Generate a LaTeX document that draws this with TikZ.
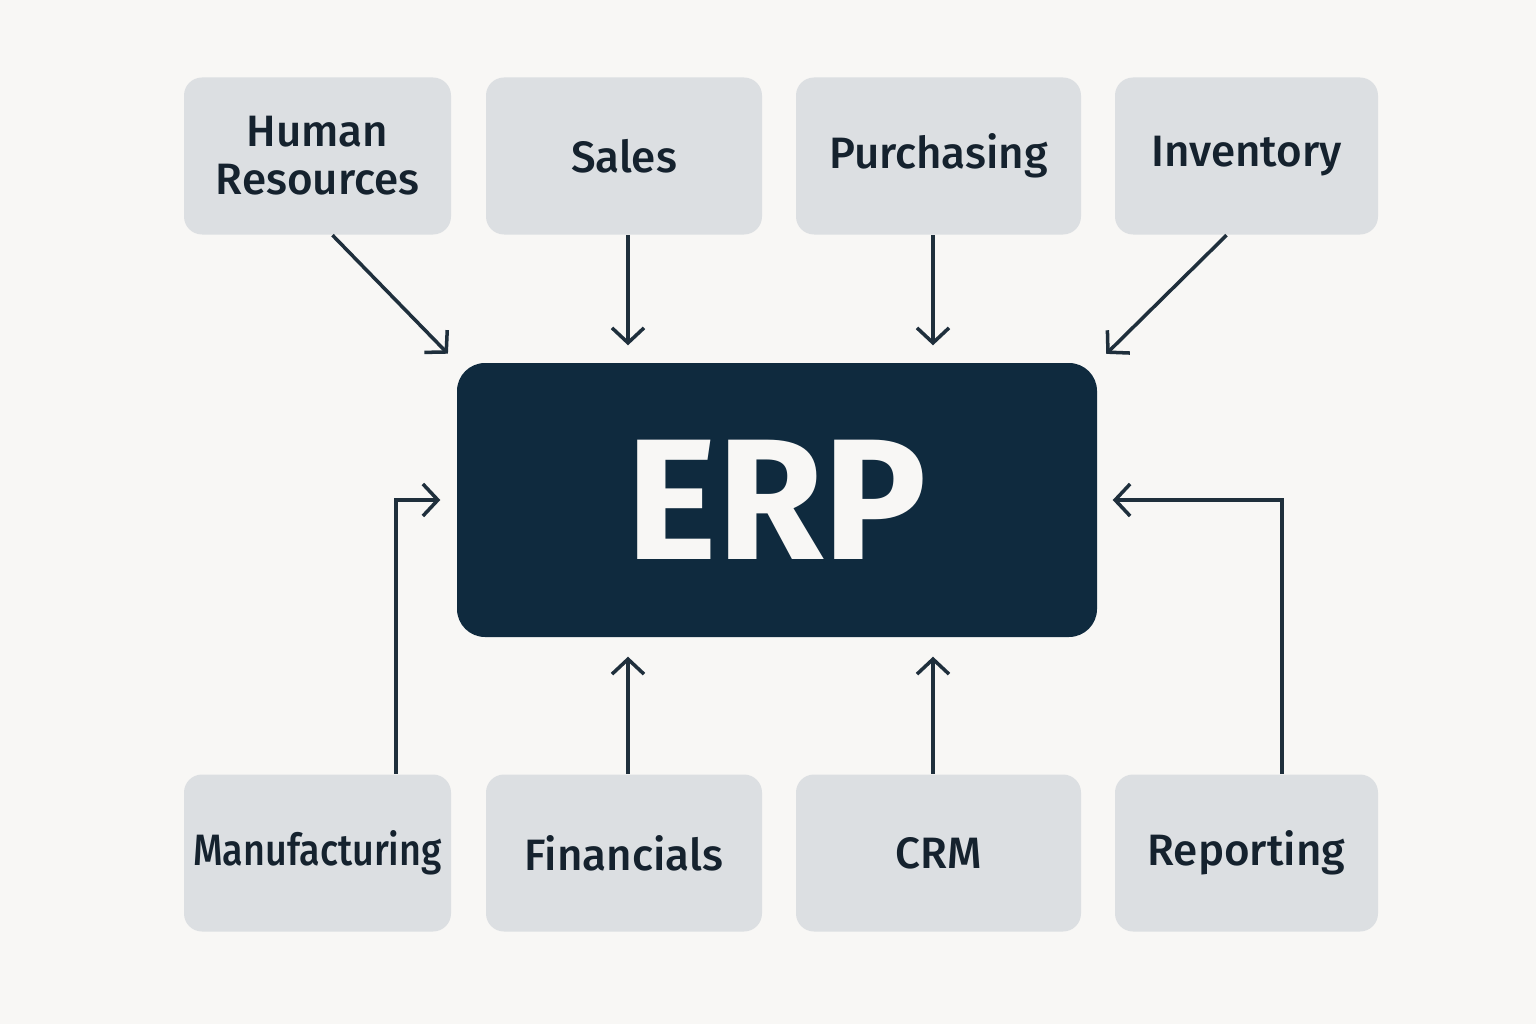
\documentclass[tikz,border=0pt]{standalone}
\usepackage{fontspec}
\setmainfont{Fira Sans}[UprightFont=* Medium, BoldFont=* Bold]
\usetikzlibrary{arrows.meta}
\definecolor{bgpaper}{HTML}{F8F7F5}
\definecolor{modfill}{HTML}{DCDFE2}
\definecolor{erpnavy}{HTML}{0F2A3E}
\definecolor{inktext}{HTML}{15222E}
\definecolor{inkline}{HTML}{1F2F3C}
\begin{document}
\begin{tikzpicture}[
    module/.style={fill=modfill, rounded corners=0.18cm, text=inktext,
      minimum height=1.57cm, inner xsep=0pt, align=center,
      font=\fontsize{12.5}{13.7}\selectfont},
    core/.style={fill=erpnavy, rounded corners=0.28cm, text=bgpaper,
      minimum width=6.4cm, minimum height=2.74cm,
      font=\bfseries\fontsize{49}{50}\selectfont},
    link/.style={draw=inkline, line width=1pt,
      -{Straight Barb[length=1.5mm, width=3.2mm, line width=1pt]}}
  ]

  % page
  \fill[bgpaper] (0, 0) rectangle (15.36, 10.24);

  % centre
  \node[core] (erp) at (7.77, 5.24) {ERP};

  % top row
  \node[module, minimum width=2.67cm] (hr) at (3.175, 8.68) {Human\\Resources};
  \node[module, minimum width=2.76cm] (sales) at (6.24, 8.68) {Sales};
  \node[module, minimum width=2.85cm] (purch) at (9.385, 8.68) {Purchasing};
  \node[module, minimum width=2.63cm] (inv) at (12.465, 8.68) {Inventory};

  % bottom row
  \node[module, minimum width=2.67cm] (manu) at (3.175, 1.71) {\scalebox{0.86}[1]{Manufacturing}};
  \node[module, minimum width=2.76cm] (fin) at (6.24, 1.71) {Financials};
  \node[module, minimum width=2.85cm] (crm) at (9.385, 1.71) {CRM};
  \node[module, minimum width=2.63cm] (rep) at (12.465, 1.71) {Reporting};

  % links into erp
  \draw[link, shorten >=0.12cm] ([xshift=1.5mm]hr.south) -- (erp.north west);
  \draw[link, shorten >=0.17cm] ([xshift=0.4mm]sales.south) -- ([xshift=0.4mm]sales.south |- erp.north);
  \draw[link, shorten >=0.17cm] ([xshift=-0.55mm]purch.south) -- ([xshift=-0.55mm]purch.south |- erp.north);
  \draw[link, shorten >=0.12cm] ([xshift=-2mm]inv.south) -- (erp.north east);

  \draw[link, shorten >=0.16cm] ([xshift=7.85mm]manu.north) |- (erp.west);
  \draw[link, shorten >=0.19cm] ([xshift=0.4mm]fin.north) -- ([xshift=0.4mm]fin.north |- erp.south);
  \draw[link, shorten >=0.19cm] ([xshift=-0.55mm]crm.north) -- ([xshift=-0.55mm]crm.north |- erp.south);
  \draw[link, shorten >=0.15cm] ([xshift=3.55mm]rep.north) |- (erp.east);

\end{tikzpicture}
\end{document}
